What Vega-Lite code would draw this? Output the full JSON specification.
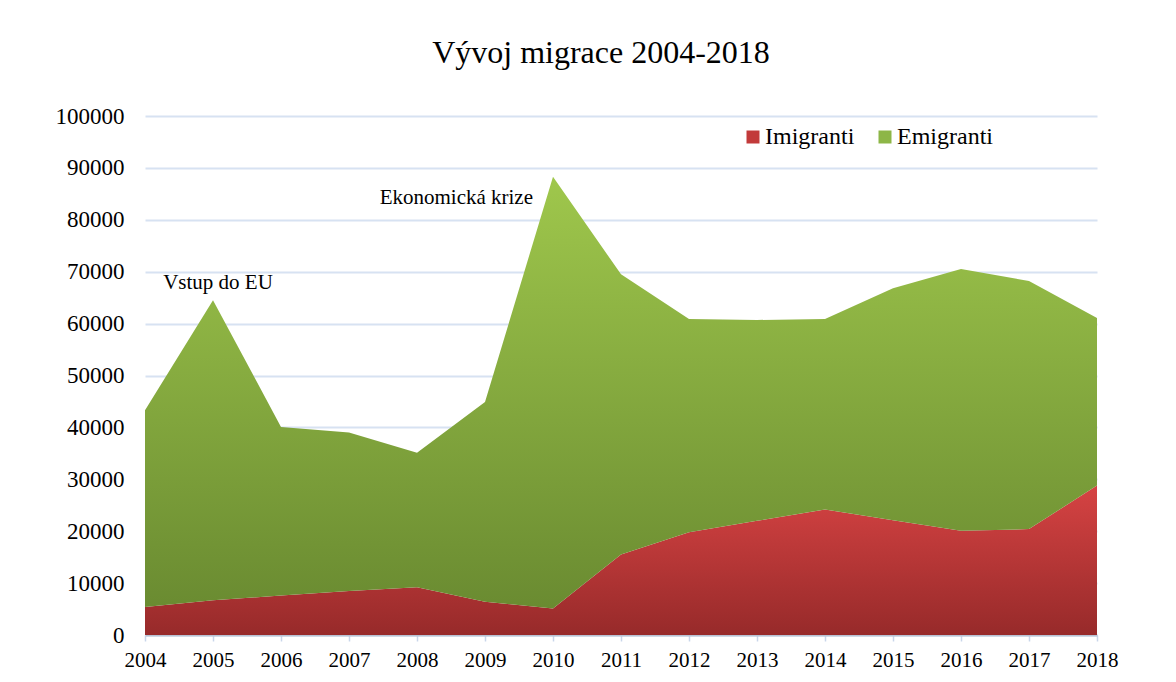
{
  "$schema": "https://vega.github.io/schema/vega-lite/v6.json",
  "width": 952,
  "height": 519,
  "autosize": "none",
  "padding": {"left": 145, "top": 116, "right": 79, "bottom": 47},
  "background": "white",
  "config": {"font": "Liberation Serif", "view": {"stroke": null}},
  "title": {
    "text": "Vývoj migrace 2004-2018",
    "font": "Liberation Serif",
    "fontSize": 32,
    "fontWeight": "normal",
    "color": "#000000",
    "anchor": "middle",
    "dx": -20,
    "offset": 10,
    "baseline": "alphabetic"
  },
  "datasets": {
    "migrace": [
      {"rok": 2004, "serie": "Imigranti", "pocet": 5400},
      {"rok": 2005, "serie": "Imigranti", "pocet": 6700},
      {"rok": 2006, "serie": "Imigranti", "pocet": 7600},
      {"rok": 2007, "serie": "Imigranti", "pocet": 8500},
      {"rok": 2008, "serie": "Imigranti", "pocet": 9200},
      {"rok": 2009, "serie": "Imigranti", "pocet": 6400},
      {"rok": 2010, "serie": "Imigranti", "pocet": 5100},
      {"rok": 2011, "serie": "Imigranti", "pocet": 15500},
      {"rok": 2012, "serie": "Imigranti", "pocet": 19800},
      {"rok": 2013, "serie": "Imigranti", "pocet": 22000},
      {"rok": 2014, "serie": "Imigranti", "pocet": 24200},
      {"rok": 2015, "serie": "Imigranti", "pocet": 22100},
      {"rok": 2016, "serie": "Imigranti", "pocet": 20100},
      {"rok": 2017, "serie": "Imigranti", "pocet": 20400},
      {"rok": 2018, "serie": "Imigranti", "pocet": 28800},
      {"rok": 2004, "serie": "Emigranti", "pocet": 37900},
      {"rok": 2005, "serie": "Emigranti", "pocet": 57800},
      {"rok": 2006, "serie": "Emigranti", "pocet": 32500},
      {"rok": 2007, "serie": "Emigranti", "pocet": 30500},
      {"rok": 2008, "serie": "Emigranti", "pocet": 25900},
      {"rok": 2009, "serie": "Emigranti", "pocet": 38500},
      {"rok": 2010, "serie": "Emigranti", "pocet": 83200},
      {"rok": 2011, "serie": "Emigranti", "pocet": 54000},
      {"rok": 2012, "serie": "Emigranti", "pocet": 41100},
      {"rok": 2013, "serie": "Emigranti", "pocet": 38700},
      {"rok": 2014, "serie": "Emigranti", "pocet": 36700},
      {"rok": 2015, "serie": "Emigranti", "pocet": 44700},
      {"rok": 2016, "serie": "Emigranti", "pocet": 50400},
      {"rok": 2017, "serie": "Emigranti", "pocet": 47800},
      {"rok": 2018, "serie": "Emigranti", "pocet": 32300}
    ]
  },
  "layer": [
    {
      "data": {"name": "migrace"},
      "mark": {"type": "area", "interpolate": "linear", "opacity": 1},
      "encoding": {
        "x": {
          "field": "rok",
          "type": "quantitative",
          "scale": {"domain": [2004, 2018], "nice": false, "zero": false},
          "axis": {
            "values": [2004, 2005, 2006, 2007, 2008, 2009, 2010, 2011, 2012, 2013, 2014, 2015, 2016, 2017, 2018],
            "format": "d",
            "title": null,
            "grid": false,
            "labelFont": "Liberation Serif",
            "labelFontSize": 21,
            "labelColor": "#000000",
            "labelPadding": 8,
            "labelFlush": false,
            "tickSize": 6,
            "tickColor": "#c9d6ea",
            "tickWidth": 1.5,
            "domainColor": "#b8c2d3",
            "domainWidth": 2
          }
        },
        "y": {
          "field": "pocet",
          "type": "quantitative",
          "stack": "zero",
          "scale": {"domain": [0, 100000], "nice": false},
          "axis": {
            "values": [0, 10000, 20000, 30000, 40000, 50000, 60000, 70000, 80000, 90000, 100000],
            "format": "d",
            "title": null,
            "grid": true,
            "gridColor": "#d7e2f2",
            "gridWidth": 2,
            "domain": false,
            "ticks": false,
            "labelFont": "Liberation Serif",
            "labelFontSize": 23,
            "labelColor": "#000000",
            "labelPadding": 21
          }
        },
        "detail": {"field": "serie", "type": "nominal"},
        "fill": {
          "condition": {
            "test": "datum.serie === 'Imigranti'",
            "value": {"gradient": "linear", "x1": 0, "y1": 0, "x2": 0, "y2": 1, "stops": [{"offset": 0, "color": "#d64343"}, {"offset": 1, "color": "#972a2a"}]}
          },
          "value": {"gradient": "linear", "x1": 0, "y1": 0, "x2": 0, "y2": 1, "stops": [{"offset": 0, "color": "#9fc74c"}, {"offset": 1, "color": "#6a8b31"}]}
        },
        "order": {"field": "serie", "sort": "descending"}
      }
    },
    {
      "data": {"name": "migrace"},
      "mark": {"type": "square", "opacity": 0},
      "encoding": {
        "x": {"field": "rok", "type": "quantitative"},
        "y": {"field": "pocet", "type": "quantitative"},
        "color": {
          "field": "serie",
          "type": "nominal",
          "scale": {"domain": ["Imigranti", "Emigranti"], "range": ["#c23a3a", "#8db647"]},
          "legend": {
            "orient": "none",
            "legendX": 596,
            "legendY": 9,
            "direction": "horizontal",
            "title": null,
            "symbolType": "square",
            "symbolSize": 169,
            "symbolStrokeWidth": 0,
            "symbolOpacity": 1,
            "labelFont": "Liberation Serif",
            "labelFontSize": 24,
            "labelColor": "#000000",
            "labelOffset": 0,
            "columnPadding": 18
          }
        }
      }
    },
    {
      "data": {"values": [{"rok": 2005, "pocet": 64500, "popis": "Vstup do EU"}]},
      "mark": {"type": "text", "align": "center", "baseline": "middle", "dx": 5, "dy": -17, "font": "Liberation Serif", "fontSize": 21, "color": "#000000"},
      "encoding": {
        "x": {"field": "rok", "type": "quantitative"},
        "y": {"field": "pocet", "type": "quantitative"},
        "text": {"field": "popis"}
      }
    },
    {
      "data": {"values": [{"rok": 2010, "pocet": 88300, "popis": "Ekonomická krize"}]},
      "mark": {"type": "text", "align": "right", "baseline": "middle", "dx": -20, "dy": 21, "font": "Liberation Serif", "fontSize": 21, "color": "#000000"},
      "encoding": {
        "x": {"field": "rok", "type": "quantitative"},
        "y": {"field": "pocet", "type": "quantitative"},
        "text": {"field": "popis"}
      }
    }
  ]
}
